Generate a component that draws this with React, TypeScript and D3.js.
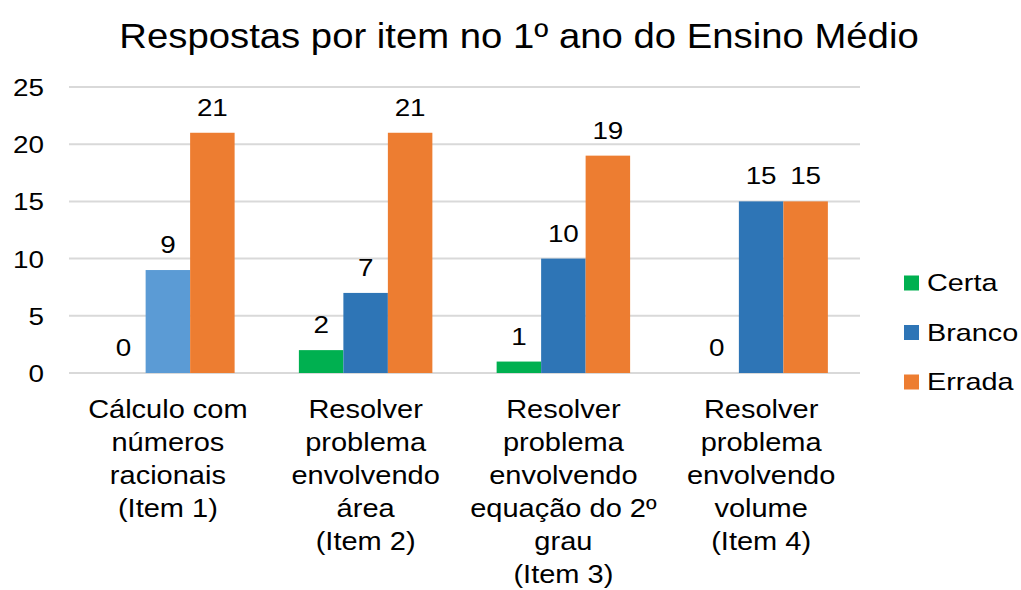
import React from "react";
import * as d3 from "d3";

const categories: string[][] = [
  ["Cálculo com", "números", "racionais", "(Item 1)"],
  ["Resolver", "problema", "envolvendo", "área", "(Item 2)"],
  ["Resolver", "problema", "envolvendo", "equação do 2º", "grau", "(Item 3)"],
  ["Resolver", "problema", "envolvendo", "volume", "(Item 4)"],
];
const seriesNames = ["Certa", "Branco", "Errada"];
const certa = [0, 2, 1, 0];
const branco = [9, 7, 10, 15];
const errada = [21, 21, 19, 15];
const yTicks = [0, 5, 10, 15, 20, 25];
const colors = ["#00B050", "#2E75B6", "#ED7D31"];
const firstBrancoColor = "#5B9BD5";
const title = "Respostas por item no 1º ano do Ensino Médio";

function T(props: { x: number; y: number; size: number; sx: number; anchor?: string; children: React.ReactNode }) {
  return (
    <g transform={`translate(${props.x},${props.y}) scale(${props.sx},1)`}>
      <text x={0} y={0} fontSize={props.size} textAnchor={props.anchor || "start"} fill="#000">{props.children}</text>
    </g>
  );
}

export default function App() {
  const W = 1021, H = 590;
  const left = 69, right = 860, top = 87, bottom = 373;
  const font = "'Liberation Sans', Arial, sans-serif";
  const x0 = d3.scaleBand<number>().domain(d3.range(categories.length)).range([left, right]).paddingInner(0.325).paddingOuter(0.1625);
  const x1 = d3.scaleBand<number>().domain([0, 1, 2]).range([0, x0.bandwidth()]);
  const y = d3.scaleLinear().domain([0, 25]).range([bottom, top]);
  const series = [certa, branco, errada];

  return (
    <svg width={W} height={H} style={{ position: "absolute", left: 0, top: 0, background: "#fff" }} fontFamily={font}>
      <rect width={W} height={H} fill="#fff" />
      <T x={519} y={48} size={36} sx={1.064} anchor="middle">{title}</T>
      {yTicks.map((t) => (
        <g key={t}>
          <line x1={left} x2={right} y1={y(t)} y2={y(t)} stroke="#D9D9D9" strokeWidth={2} />
          <T x={44} y={y(t) + 9} size={24} sx={1.16} anchor="end">{t}</T>
        </g>
      ))}
      {categories.map((_, ci) => (
        <g key={ci} transform={`translate(${x0(ci)},0)`}>
          {series.map((s, si) => {
            const v = s[ci];
            const bx = x1(si)!;
            const fill = ci === 0 && si === 1 ? firstBrancoColor : colors[si];
            return (
              <g key={si}>
                {v > 0 && <rect x={bx} y={y(v)} width={x1.bandwidth()} height={y(0) - y(v)} fill={fill} />}
                <T x={bx + x1.bandwidth() / 2} y={y(v) - 17} size={24} sx={1.16} anchor="middle">{v}</T>
              </g>
            );
          })}
        </g>
      ))}
      {categories.map((lines, ci) => (
        <g key={ci}>
          {lines.map((l, li) => (
            <T key={li} x={x0(ci)! + x0.bandwidth() / 2} y={418 + li * 33} size={25} sx={1.16} anchor="middle">{l}</T>
          ))}
        </g>
      ))}
      {seriesNames.map((n, i) => (
        <g key={n} transform={`translate(904,${283 + i * 49.5})`}>
          <rect x={0} y={-7.5} width={15} height={15} fill={colors[i]} />
          <T x={23} y={8} size={24} sx={1.2}>{n}</T>
        </g>
      ))}
    </svg>
  );
}
